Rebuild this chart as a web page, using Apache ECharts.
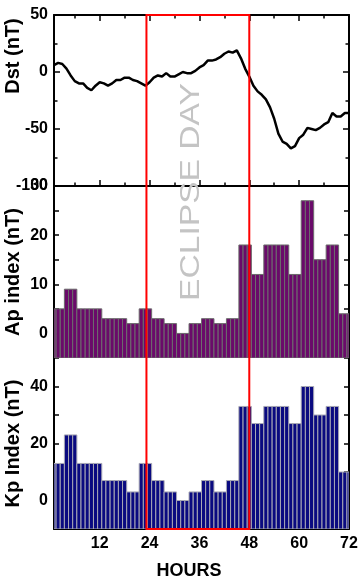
<!DOCTYPE html>
<html><head><meta charset="utf-8">
<script src="https://cdn.jsdelivr.net/npm/echarts@6/dist/echarts.min.js"></script>
<style>html,body{margin:0;padding:0;background:#fff}#c{width:360px;height:585px}</style>
</head><body><div id="c"></div>
<script>
// ---------- data ----------
const hours = [1,2,3,4,5,6,7,8,9,10,11,12,13,14,15,16,17,18,19,20,21,22,23,24,
  25,26,27,28,29,30,31,32,33,34,35,36,37,38,39,40,41,42,43,44,45,46,47,48,
  49,50,51,52,53,54,55,56,57,58,59,60,61,62,63,64,65,66,67,68,69,70,71,72];
const dst = [6,8,7,3,-3,-8,-10,-10,-14,-16,-12,-9,-10,-12,-10,-7,-7,-5,-5,-7,-8,-10,-12,-9,
  -5,-3,-4,-1,-4,-4,-2,0,-1,-1,1,4,6,10,10,11,13,16,18,17,19,12,3,-4,
  -12,-17,-20,-24,-31,-41,-54,-61,-63,-67,-65,-58,-55,-49,-50,-51,-49,-46,-44,-36,-39,-39,-36,-36];
const ap = [5,5,5,9,9,9,5,5,5,5,5,5,3,3,3,3,3,3,2,2,2,5,5,5,
  3,3,3,2,2,2,0,0,0,2,2,2,3,3,3,2,2,2,3,3,3,18,18,18,
  12,12,12,18,18,18,18,18,18,12,12,12,27,27,27,15,15,15,18,18,18,4,4,4];
const kp = [13,13,13,23,23,23,13,13,13,13,13,13,7,7,7,7,7,7,3,3,3,13,13,13,
  7,7,7,3,3,3,0,0,0,3,3,3,7,7,7,3,3,3,7,7,7,33,33,33,
  27,27,27,33,33,33,33,33,33,27,27,27,40,40,40,30,30,30,33,33,33,10,10,10];
const hourLabels = [12,24,36,48,60,72];
const hourMajorTicks = [12,24,36,48,60,72];
const hourMinorTicks = [6,18,30,42,54,66];
const dstLabels = [-100,-50,0,50];
const apLabels = [0,10,20,30];
const apTicks = [-5,0,5,10,15,20,25,30];
const kpLabels = [0,20,40];
const kpTicks = [-10,0,10,20,30,40,50];
const eclipseSpan = [23.25, 48];
const eclipseText = 'ECLIPSE DAY';
const dstTitle = 'Dst (nT)';

// ---------- chart ----------
const FONT = "'Liberation Sans', Arial, sans-serif";
const chart = echarts.init(document.getElementById('c'), null, {renderer:'canvas'});
const LINE = {show:true, onZero:false, lineStyle:{color:'#000', width:2}};
const NOLINE = {show:false, onZero:false};
const LBL = {fontFamily:FONT, fontWeight:'bold', fontSize:16, color:'#000'};
const XMIN = 1, XMAX = 72;

function xAx(grid, pos, line, ticks, len, labels, extra) {
  return Object.assign({
    type:'value', gridIndex:grid, position:pos, min:XMIN, max:XMAX,
    axisLine: line ? LINE : NOLINE,
    axisTick: ticks ? {show:true, inside:true, length:len, customValues:ticks, lineStyle:{color:'#000', width:1.5}} : {show:false},
    axisLabel: labels ? Object.assign({show:true, margin:7, customValues:labels}, LBL) : {show:false},
    splitLine:{show:false}
  }, extra || {});
}
function yAx(grid, pos, min, max, ticks, labels, extra) {
  return Object.assign({
    type:'value', gridIndex:grid, position:pos, min:min, max:max,
    axisLine: LINE,
    axisTick: {show:true, inside:true, length:5, customValues:ticks, lineStyle:{color:'#000', width:1.5}},
    axisLabel: labels ? Object.assign({show:true, margin:6, customValues:labels}, LBL) : {show:false},
    splitLine:{show:false}
  }, extra || {});
}
const NAME = {fontFamily:FONT, fontWeight:'bold', fontSize:20, color:'#000'};

function barRender(fill, stroke, base) {
  return function (params, api) {
    const h = api.value(0), v = api.value(1);
    const p0 = api.coord([h - 0.5, base]);
    const p1 = api.coord([h + 0.5, v]);
    const cs = params.coordSys;
    const x0 = Math.max(p0[0], cs.x), x1 = Math.min(p1[0], cs.x + cs.width);
    return {type:'rect', shape:{x:x0, y:p1[1], width:x1 - x0, height:p0[1] - p1[1]},
      style:{fill:fill, stroke:stroke, lineWidth:1}};
  };
}

const G = {left:54, right:11, containLabel:false, outerBoundsMode:'none'};
const option = {
  animation:false,
  backgroundColor:'#fff',
  grid:[
    Object.assign({top:15, height:171}, G),
    Object.assign({top:186, height:172}, G),
    Object.assign({top:358, height:171}, G)
  ],
  xAxis:[
    xAx(0,'bottom',true, hourMajorTicks,6,null),
    xAx(0,'bottom',false,hourMinorTicks,3.5,null),
    xAx(0,'top',true, hourMajorTicks,6,null),
    xAx(0,'top',false,hourMinorTicks,3.5,null),
    xAx(1,'top',false,null,0,null),
    xAx(2,'bottom',true,hourMajorTicks,6,hourLabels,{
      name:'HOURS', nameLocation:'middle', nameGap:33, nameMoveOverlap:false,
      nameTextStyle:Object.assign({padding:[0,25,0,0]}, NAME, {fontSize:18})})
  ],
  yAxis:[
    {type:'value', gridIndex:0, position:'left', min:-100, max:50, interval:50,
      axisLine:LINE,
      axisTick:{show:true, inside:true, length:6, lineStyle:{color:'#000', width:1.5}},
      minorTick:{show:true, splitNumber:2, length:3.5, lineStyle:{color:'#000', width:1.5}},
      axisLabel:Object.assign({show:true, margin:6, customValues:dstLabels}, LBL),
      splitLine:{show:false}},
    {type:'value', gridIndex:0, position:'right', min:-100, max:50, interval:50,
      axisLine:LINE,
      axisTick:{show:true, inside:true, length:6, lineStyle:{color:'#000', width:1.5}},
      minorTick:{show:true, splitNumber:2, length:3.5, lineStyle:{color:'#000', width:1.5}},
      axisLabel:{show:false}, splitLine:{show:false}},
    yAx(1,'left',-5,30,apTicks,apLabels,{name:'Ap index (nT)', nameLocation:'middle', nameGap:31, nameMoveOverlap:false, nameTextStyle:NAME}),
    yAx(1,'right',-5,30,apTicks,null),
    yAx(2,'left',-10,50,kpTicks,kpLabels,{name:'Kp Index (nT)', nameLocation:'middle', nameGap:31, nameMoveOverlap:false, nameTextStyle:NAME}),
    yAx(2,'right',-10,50,kpTicks,null)
  ],
  series:[
    {type:'line', xAxisIndex:0, yAxisIndex:0, data:hours.map((h,i)=>[h,dst[i]]),
      showSymbol:false, symbol:'none', lineStyle:{color:'#000', width:2.5}, z:5},
    {type:'custom', xAxisIndex:4, yAxisIndex:2, data:hours.map((h,i)=>[h,ap[i]]),
      renderItem:barRender('#6a0a6a','#6c6c6c',-5), clip:true},
    {type:'custom', xAxisIndex:5, yAxisIndex:4, data:hours.map((h,i)=>[h,kp[i]]),
      renderItem:barRender('#0a0a80','#a8a8b4',-10), clip:true}
  ]
};
chart.setOption(option);

// eclipse-day box spanning all three panels + labels
const xl = chart.convertToPixel({xAxisIndex:0}, eclipseSpan[0]);
const xr = chart.convertToPixel({xAxisIndex:0}, eclipseSpan[1]);
const yt = chart.convertToPixel({yAxisIndex:0}, 50);
const yb = chart.convertToPixel({yAxisIndex:4}, -10);
const tx = chart.convertToPixel({xAxisIndex:0}, 34.1);
const dstNameY = chart.convertToPixel({yAxisIndex:0}, 14);
chart.setOption({graphic:[
  {type:'rect', z:100, shape:{x:xl, y:yt, width:xr - xl, height:yb - yt},
    style:{fill:'none', stroke:'#ff0000', lineWidth:2}},
  {type:'text', z:99, x:tx, y:192, rotation:Math.PI/2, scaleX:1.2, scaleY:1,
    style:{text:eclipseText, fontFamily:FONT, fontSize:28, fill:'#c4c4c4', align:'center', verticalAlign:'middle'}},
  {type:'text', z:99, x:13, y:dstNameY, rotation:Math.PI/2,
    style:{text:dstTitle, fontFamily:FONT, fontSize:20, fontWeight:'bold', fill:'#000', align:'center', verticalAlign:'middle'}}
]});
</script>
</body></html>
